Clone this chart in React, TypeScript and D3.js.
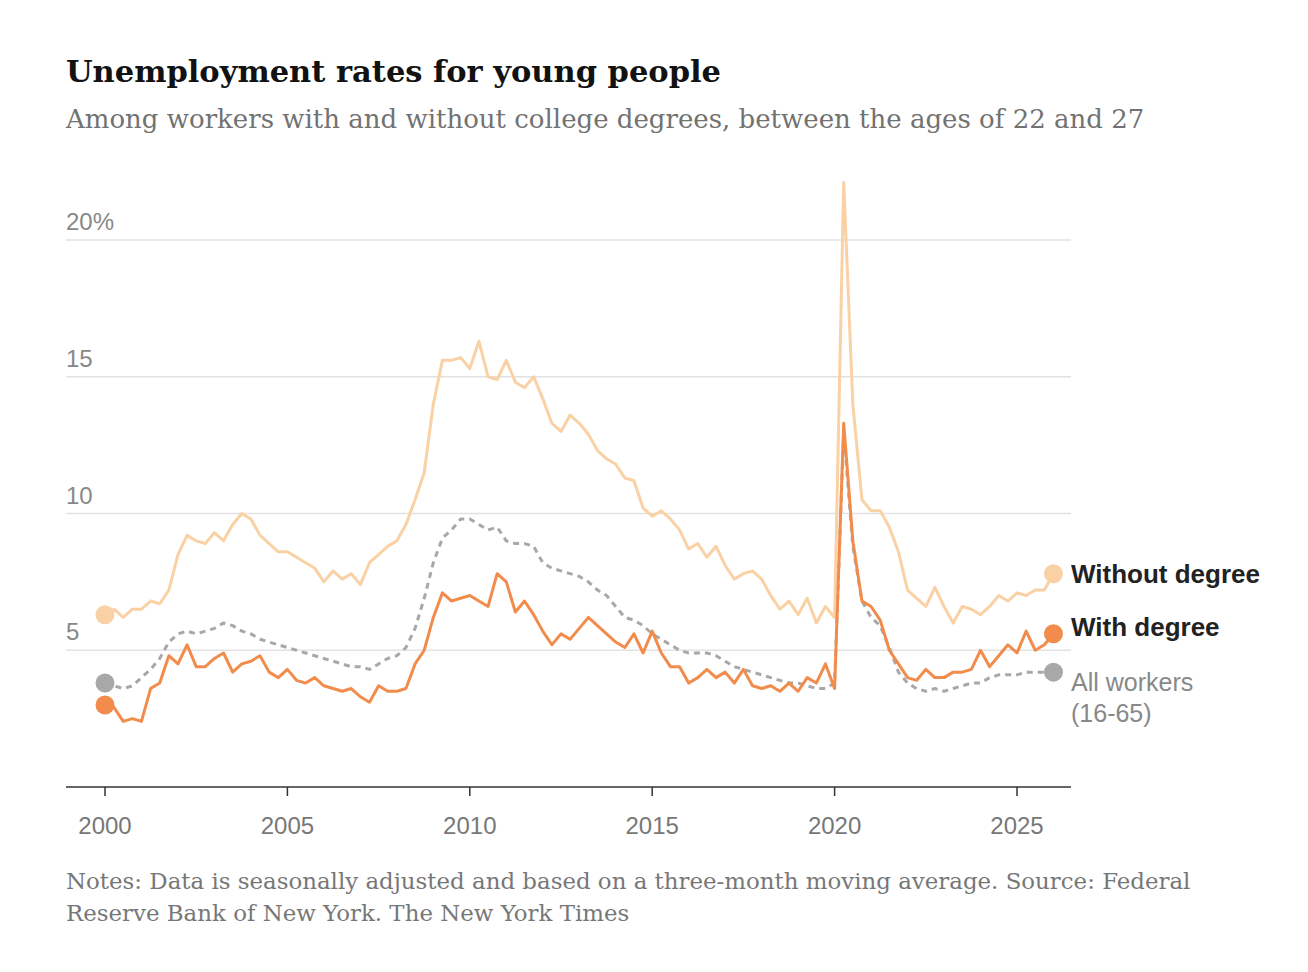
import { useRef, useEffect } from 'react'
import * as d3 from 'd3'

// Quarterly values, 2000 Q1 .. 2026 Q1
const withoutDegree = [
  6.3, 6.5, 6.2, 6.5, 6.5, 6.8, 6.7, 7.2, 8.5, 9.2, 9.0, 8.9, 9.3, 9.0, 9.6, 10.0,
  9.8, 9.2, 8.9, 8.6, 8.6, 8.4, 8.2, 8.0, 7.5, 7.9, 7.6, 7.8, 7.4, 8.2, 8.5, 8.8,
  9.0, 9.6, 10.5, 11.5, 14.0, 15.6, 15.6, 15.7, 15.3, 16.3, 15.0, 14.9, 15.6, 14.8, 14.6, 15.0,
  14.2, 13.3, 13.0, 13.6, 13.3, 12.9, 12.3, 12.0, 11.8, 11.3, 11.2, 10.2, 9.9, 10.1, 9.8, 9.4,
  8.7, 8.9, 8.4, 8.8, 8.1, 7.6, 7.8, 7.9, 7.6, 7.0, 6.5, 6.8, 6.3, 6.9, 6.0, 6.6,
  6.2, 22.1, 14.0, 10.5, 10.1, 10.1, 9.5, 8.6, 7.2, 6.9, 6.6, 7.3, 6.6, 6.0, 6.6, 6.5,
  6.3, 6.6, 7.0, 6.8, 7.1, 7.0, 7.2, 7.2, 7.8,
]
const withDegree = [
  3.0, 2.9, 2.4, 2.5, 2.4, 3.6, 3.8, 4.8, 4.5, 5.2, 4.4, 4.4, 4.7, 4.9, 4.2, 4.5,
  4.6, 4.8, 4.2, 4.0, 4.3, 3.9, 3.8, 4.0, 3.7, 3.6, 3.5, 3.6, 3.3, 3.1, 3.7, 3.5,
  3.5, 3.6, 4.5, 5.0, 6.2, 7.1, 6.8, 6.9, 7.0, 6.8, 6.6, 7.8, 7.5, 6.4, 6.8, 6.3,
  5.7, 5.2, 5.6, 5.4, 5.8, 6.2, 5.9, 5.6, 5.3, 5.1, 5.6, 4.9, 5.7, 4.9, 4.4, 4.4,
  3.8, 4.0, 4.3, 4.0, 4.2, 3.8, 4.3, 3.7, 3.6, 3.7, 3.5, 3.8, 3.5, 4.0, 3.8, 4.5,
  3.6, 13.3, 9.0, 6.8, 6.6, 6.1, 5.0, 4.5, 4.0, 3.9, 4.3, 4.0, 4.0, 4.2, 4.2, 4.3,
  5.0, 4.4, 4.8, 5.2, 4.9, 5.7, 5.0, 5.2, 5.6,
]
const allWorkers = [
  3.8, 3.7, 3.6, 3.7, 4.0, 4.3, 4.7, 5.3, 5.6, 5.7, 5.6, 5.7, 5.8, 6.0, 5.9, 5.7,
  5.6, 5.4, 5.3, 5.2, 5.1, 5.0, 4.9, 4.8, 4.7, 4.6, 4.5, 4.4, 4.4, 4.3, 4.5, 4.7,
  4.8, 5.1, 5.8, 6.9, 8.2, 9.1, 9.4, 9.8, 9.8, 9.6, 9.4, 9.5, 9.0, 8.9, 8.9, 8.8,
  8.2, 8.0, 7.9, 7.8, 7.7, 7.5, 7.2, 7.0, 6.6, 6.2, 6.1, 5.9, 5.6, 5.4, 5.2, 5.0,
  4.9, 4.9, 4.9, 4.8, 4.6, 4.4, 4.3, 4.2, 4.1, 4.0, 3.9, 3.8, 3.8, 3.7, 3.6, 3.6,
  3.8, 13.0, 8.8, 6.8, 6.2, 5.9, 5.1, 4.2, 3.8, 3.6, 3.5, 3.6, 3.5, 3.6, 3.7, 3.8,
  3.8, 4.0, 4.1, 4.1, 4.1, 4.2, 4.2, 4.2, 4.2,
]
const yTicks = [5, 10, 15, 20]
const xTicks = [2000, 2005, 2010, 2015, 2020, 2025]

const SANS = 'Helvetica, "Liberation Sans", Arial, sans-serif'
const SERIF = '"DejaVu Serif", Georgia, serif'

export default function App() {
  const svgRef = useRef<SVGSVGElement>(null)

  useEffect(() => {
    const svg = d3.select(svgRef.current!)
    svg.selectAll('*').remove()
    const width = 1300
    const height = 960

    const x = d3.scaleLinear().domain([2000, 2025]).range([97, 1009])
    const y = d3.scaleLinear().domain([0, 20]).range([779, 232])
    const left = 58
    const right = 1063

    svg.append('text').attr('x', left).attr('y', 74)
      .style('font-family', SERIF).style('font-weight', 'bold').style('font-size', '30.5px').style('fill', '#121212')
      .text('Unemployment rates for young people')
    svg.append('text').attr('x', left).attr('y', 120)
      .style('font-family', SERIF).style('font-size', '26px').style('fill', '#727272')
      .text('Among workers with and without college degrees, between the ages of 22 and 27')

    // Grid
    yTicks.forEach(t => {
      svg.append('line').attr('x1', left).attr('x2', right).attr('y1', y(t)).attr('y2', y(t))
        .attr('stroke', '#e2e2e2').attr('stroke-width', 1.5)
      svg.append('text').attr('x', left).attr('y', y(t) - 10)
        .style('font-family', SANS).style('font-size', '24px').style('fill', '#888')
        .text(t === 20 ? '20%' : String(t))
    })

    svg.append('line').attr('x1', left).attr('x2', right).attr('y1', y(0)).attr('y2', y(0))
      .attr('stroke', '#333').attr('stroke-width', 1.5)
    xTicks.forEach(t => {
      svg.append('line').attr('x1', x(t)).attr('x2', x(t)).attr('y1', y(0)).attr('y2', y(0) + 9)
        .attr('stroke', '#333').attr('stroke-width', 1.5)
      svg.append('text').attr('x', x(t)).attr('y', 826).attr('text-anchor', 'middle')
        .style('font-family', SANS).style('font-size', '24px').style('fill', '#777')
        .text(t)
    })

    const line = d3.line<number>().x((_, i) => x(2000 + i / 4)).y(d => y(d))

    const series = [
      { data: allWorkers, color: '#a8a8a8', dash: '6,5', w: 3 },
      { data: withoutDegree, color: '#fad1a5', dash: null, w: 3 },
      { data: withDegree, color: '#f28c4c', dash: null, w: 3 },
    ]
    series.forEach(s => {
      svg.append('path').attr('d', line(s.data)!).attr('fill', 'none')
        .attr('stroke', s.color).attr('stroke-width', s.w)
        .attr('stroke-dasharray', s.dash).attr('stroke-linejoin', 'round')
      const n = s.data.length - 1
      svg.append('circle').attr('cx', x(2000)).attr('cy', y(s.data[0])).attr('r', 9.5).attr('fill', s.color)
      svg.append('circle').attr('cx', x(2000 + n / 4)).attr('cy', y(s.data[n])).attr('r', 9.5).attr('fill', s.color)
    })

    const last = (a: number[]) => a[a.length - 1]
    const lx = 1063
    svg.append('text').attr('x', lx).attr('y', y(last(withoutDegree)) + 9)
      .style('font-family', SANS).style('font-weight', 'bold').style('font-size', '26px').style('fill', '#222')
      .text('Without degree')
    svg.append('text').attr('x', lx).attr('y', y(last(withDegree)) + 2)
      .style('font-family', SANS).style('font-weight', 'bold').style('font-size', '26px').style('fill', '#222')
      .text('With degree')
    svg.append('text').attr('x', lx).attr('y', y(last(allWorkers)) + 19)
      .style('font-family', SANS).style('font-size', '25px').style('fill', '#888')
      .text('All workers')
    svg.append('text').attr('x', lx).attr('y', y(last(allWorkers)) + 50)
      .style('font-family', SANS).style('font-size', '25px').style('fill', '#888')
      .text('(16-65)')

    svg.append('text').attr('x', left).attr('y', 881)
      .style('font-family', SERIF).style('font-size', '22.9px').style('fill', '#777')
      .text('Notes: Data is seasonally adjusted and based on a three-month moving average.  Source: Federal')
    svg.append('text').attr('x', left).attr('y', 913)
      .style('font-family', SERIF).style('font-size', '22.9px').style('fill', '#777')
      .text('Reserve Bank of New York.  The New York Times')

    svg.attr('width', width).attr('height', height)
  }, [])

  return <svg ref={svgRef} style={{ display: 'block', background: '#fff' }} />
}
